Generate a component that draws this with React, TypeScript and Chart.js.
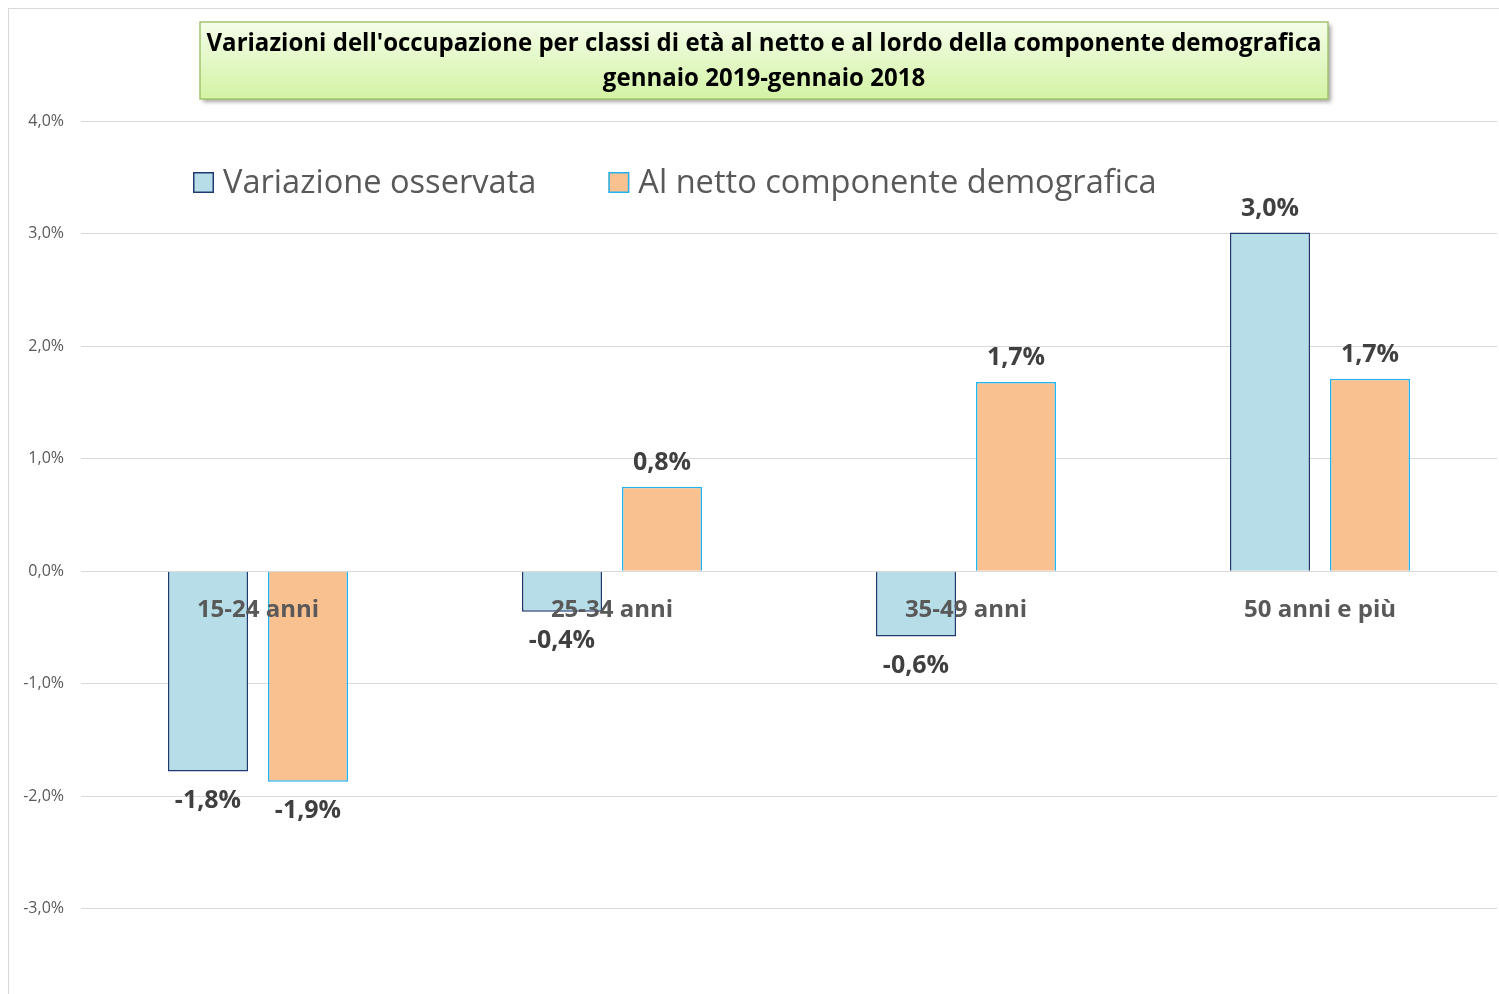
import React, { useEffect, useRef } from 'react';
import { Chart, registerables } from 'chart.js';

Chart.register(...registerables);

const categories = ['15-24 anni', '25-34 anni', '35-49 anni', '50 anni e più'];
const observed = [-1.78, -0.36, -0.58, 3.01];
const netDemographic = [-1.87, 0.75, 1.68, 1.71];
const seriesLabels = ['Variazione osservata', 'Al netto componente demografica'];
const titleLines = [
  "Variazioni dell'occupazione per classi di età al netto e al lordo della componente demografica",
  'gennaio 2019-gennaio 2018',
];
const yMin = -4;
const yMax = 4;
const yStep = 1;

const fmt = (v: number) => v.toFixed(1).replace('.', ',') + '%';

const FONT = '"Open Sans", "Noto Sans", sans-serif';

const titlePlugin = {
  id: 'titleBox',
  afterDraw(chart: any) {
    const ctx = chart.ctx;
    const x = 191, y = 13, w = 1128, h = 77;
    ctx.save();
    ctx.shadowColor = 'rgba(0,0,0,0.35)';
    ctx.shadowOffsetX = 3;
    ctx.shadowOffsetY = 3;
    ctx.shadowBlur = 4;
    const g = ctx.createLinearGradient(0, y, 0, y + h);
    g.addColorStop(0, '#f4fde9');
    g.addColorStop(1, '#d3f3a4');
    ctx.fillStyle = g;
    ctx.fillRect(x, y, w, h);
    ctx.shadowColor = 'transparent';
    ctx.strokeStyle = '#a2c56c';
    ctx.lineWidth = 1.5;
    ctx.strokeRect(x, y, w, h);
    ctx.fillStyle = '#000000';
    ctx.font = 'bold 25px ' + FONT;
    ctx.textAlign = 'center';
    ctx.textBaseline = 'middle';
    const target = 1115;
    const m = ctx.measureText(titleLines[0]).width;
    const s = Math.min(1, target / m);
    const cx = x + w / 2;
    const ys = [35, 70];
    titleLines.forEach((line, i) => {
      ctx.save();
      ctx.translate(cx, ys[i]);
      ctx.scale(s, 1);
      ctx.fillText(line, 0, 0);
      ctx.restore();
    });
    ctx.restore();
  },
};

const legendPlugin = {
  id: 'customLegend',
  afterDraw(chart: any) {
    const ctx = chart.ctx;
    ctx.save();
    ctx.font = '32.6px ' + FONT;
    ctx.textBaseline = 'middle';
    ctx.textAlign = 'left';
    let x = 184;
    const y = 163;
    const size = 21;
    chart.data.datasets.forEach((ds: any) => {
      ctx.fillStyle = ds.backgroundColor;
      ctx.fillRect(x, y, size, size);
      ctx.strokeStyle = ds.borderColor;
      ctx.lineWidth = 1.5;
      ctx.strokeRect(x + 0.75, y + 0.75, size - 1.5, size - 1.5);
      ctx.fillStyle = '#595959';
      const tx = x + size + 9;
      ctx.fillText(ds.label, tx, y + size / 2 + 1);
      x = tx + ctx.measureText(ds.label).width + 72;
    });
    ctx.restore();
  },
};

const labelsPlugin = {
  id: 'valueLabels',
  afterDatasetsDraw(chart: any) {
    const ctx = chart.ctx;
    const yScale = chart.scales.y;
    const xScale = chart.scales.x;
    ctx.save();
    ctx.textAlign = 'center';
    ctx.textBaseline = 'middle';
    ctx.font = 'bold 24px ' + FONT;
    ctx.fillStyle = '#595959';
    const zero = yScale.getPixelForValue(0);
    chart.data.labels.forEach((lab: string, i: number) => {
      ctx.fillText(lab, xScale.getPixelForValue(i), zero + 39);
    });
    ctx.font = 'bold 25px ' + FONT;
    ctx.fillStyle = '#404040';
    chart.data.datasets.forEach((ds: any, di: number) => {
      const meta = chart.getDatasetMeta(di);
      meta.data.forEach((bar: any, i: number) => {
        const v = ds.data[i];
        const yy = v >= 0 ? bar.y - 24 : bar.y + 29;
        ctx.fillText(fmt(v), bar.x, yy);
      });
    });
    ctx.restore();
  },
};

const W = 1510;
const H = 1039;

export default function App() {
  const ref = useRef<HTMLCanvasElement>(null);
  useEffect(() => {
    if (!ref.current) return;
    const chart = new Chart(ref.current, {
      type: 'bar',
      data: {
        labels: categories,
        datasets: [
          {
            label: seriesLabels[0],
            data: observed,
            backgroundColor: '#b7dde8',
            borderColor: '#1f3a70',
            borderWidth: 1.5,
            categoryPercentage: 0.565,
            barPercentage: 0.8,
          },
          {
            label: seriesLabels[1],
            data: netDemographic,
            backgroundColor: '#f9c090',
            borderColor: '#22b4ee',
            borderWidth: 1.5,
            categoryPercentage: 0.565,
            barPercentage: 0.8,
          },
        ],
      },
      options: {
        responsive: false,
        animation: false,
        layout: { padding: { top: 112, left: 0, right: 22, bottom: 9 } },
        plugins: {
          legend: { display: false },
          title: { display: false },
          tooltip: { enabled: false },
        },
        scales: {
          x: { display: false },
          y: {
            min: yMin,
            max: yMax,
            afterFit: (scale: any) => {
              scale.width = 72;
            },
            ticks: {
              stepSize: yStep,
              padding: 17,
              color: '#595959',
              font: { family: FONT, size: 16 },
              callback: (v: any) => fmt(Number(v)),
            },
            grid: { color: '#d9d9d9', lineWidth: 1, drawTicks: false },
            border: { display: false },
          },
        },
      },
      plugins: [labelsPlugin, legendPlugin, titlePlugin],
    });
    return () => chart.destroy();
  }, []);

  return (
    <div
      style={{
        position: 'fixed',
        top: 8,
        left: 8,
        right: 0,
        bottom: 0,
        overflow: 'hidden',
        background: '#ffffff',
      }}
    >
      <div style={{ border: '1px solid #d9d9d9', width: W, height: H }}>
        <canvas ref={ref} width={W} height={H} style={{ display: 'block', width: W, height: H }} />
      </div>
    </div>
  );
}
